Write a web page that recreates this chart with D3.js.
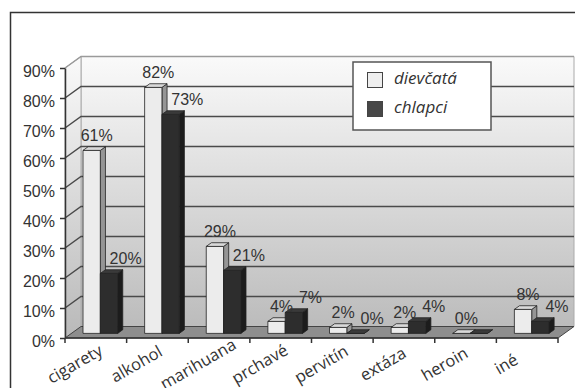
<!DOCTYPE html>
<html>
<head>
<meta charset="utf-8">
<script src="https://cdn.jsdelivr.net/npm/d3@7"></script>
<style>
  html, body { margin: 0; padding: 0; background: #fff; }
  svg { display: block; }
</style>
</head>
<body>
<script>
// ---- data ----
const categories = ["cigarety", "alkohol", "marihuana", "prchavé", "pervitín", "extáza", "heroin", "iné"];
const seriesNames = ["dievčatá", "chlapci"];
const girls = [0.61, 0.82, 0.29, 0.04, 0.02, 0.02, 0.00, 0.08];
const boys  = [0.20, 0.73, 0.21, 0.07, 0.00, 0.04, 0.00, 0.04];
const girlsLabels = ["61%", "82%", "29%", "4%", "2%", "2%", "0%", "8%"];
const boysLabels  = ["20%", "73%", "21%", "7%", "0%", "4%", "", "4%"];
const yTicks = [0, 0.1, 0.2, 0.3, 0.4, 0.5, 0.6, 0.7, 0.8, 0.9];

// ---- layout ----
const W = 575, H = 388;
const DX = 16, DY = 11.5;      // depth offset of back wall
const Z0 = 0.4, Z1 = 0.72;      // bar depth range
const x0Front = 65, x1Front = 558;

const svg = d3.select("body").append("svg").attr("width", W).attr("height", H);

const y = d3.scaleLinear().domain([0, 0.9]).range([338, 68]);
const x = d3.scaleBand().domain(categories).range([x0Front, x1Front]).padding(0);
const xi = d3.scaleBand().domain(seriesNames).range([0, x.bandwidth()])
  .paddingInner(0).paddingOuter(0.78).align(0.43);

const P = (xx, yy, z) => [xx + z * DX, yy - z * DY];
const poly = pts => pts.map(p => p.join(",")).join(" ");

// outer frame
svg.append("rect").attr("x", 10.5).attr("y", 12.5).attr("width", 620).attr("height", 420)
  .attr("fill", "#fff").attr("stroke", "#333").attr("stroke-width", 1.5);

// gradient
const defs = svg.append("defs");
const grad = defs.append("linearGradient").attr("id", "wall")
  .attr("gradientUnits", "userSpaceOnUse").attr("x1", 0).attr("x2", 0)
  .attr("y1", y(0.9) - DY).attr("y2", y(0));
grad.append("stop").attr("offset", "0%").attr("stop-color", "#fafafa");
grad.append("stop").attr("offset", "100%").attr("stop-color", "#b9b9b9");

const yTop = y(0.9), yBot = y(0);
// back wall
svg.append("polygon")
  .attr("points", poly([P(x0Front, yTop, 1), P(x1Front, yTop, 1), P(x1Front, yBot, 1), P(x0Front, yBot, 1)]))
  .attr("fill", "url(#wall)").attr("stroke", "#aaa").attr("stroke-width", 1);
// left wall
svg.append("polygon")
  .attr("points", poly([[x0Front, yBot], [x0Front, yTop], P(x0Front, yTop, 1), P(x0Front, yBot, 1)]))
  .attr("fill", "url(#wall)").attr("stroke", "#aaa").attr("stroke-width", 1);

// gridlines
yTicks.filter(v => v > 0).forEach(v => {
  const col = v >= 0.9 ? "#9a9a9a" : "#4a4a4a";
  svg.append("polyline")
    .attr("points", poly([[x0Front, y(v)], P(x0Front, y(v), 1), P(x1Front, y(v), 1)]))
    .attr("fill", "none").attr("stroke", col).attr("stroke-width", 1.5);
});

// floor
svg.append("polygon")
  .attr("points", poly([[x0Front, yBot], [x1Front, yBot], P(x1Front, yBot, 1), P(x0Front, yBot, 1)]))
  .attr("fill", "#8e8e8e").attr("stroke", "#444").attr("stroke-width", 1);

// bars
const styles = {
  "dievčatá": { front: "#ececec", top: "#d9d9d9", side: "#959595" },
  "chlapci":  { front: "#2d2d2d", top: "#3a3a3a", side: "#1c1c1c" }
};
const bars = svg.append("g");
categories.forEach((c, i) => {
  [["dievčatá", girls[i]], ["chlapci", boys[i]]].forEach(([s, v]) => {
    const st = styles[s];
    const xa = x(c) + xi(s), xb = xa + xi.bandwidth();
    const yv = y(v), y0 = y(0);
    const g = bars.append("g").attr("stroke", "#222").attr("stroke-width", 0.8).attr("stroke-linejoin", "round");
    g.append("polygon").attr("points", poly([P(xb, yv, Z0), P(xb, yv, Z1), P(xb, y0, Z1), P(xb, y0, Z0)])).attr("fill", st.side);
    g.append("polygon").attr("points", poly([P(xa, yv, Z0), P(xb, yv, Z0), P(xb, y0, Z0), P(xa, y0, Z0)])).attr("fill", st.front);
    g.append("polygon").attr("points", poly([P(xa, yv, Z0), P(xb, yv, Z0), P(xb, yv, Z1), P(xa, yv, Z1)])).attr("fill", st.top);
  });
});

// value labels
const labelG = svg.append("g").attr("font-family", "'Liberation Sans', Arial, sans-serif")
  .attr("font-size", 16).attr("fill", "#333").attr("text-anchor", "middle");
categories.forEach((c, i) => {
  {
    const s = seriesNames[0];
    const xa = x(c) + xi(s);
    const cx = xa + xi.bandwidth() / 2 + Z0 * DX + 5;
    const ty = P(0, y(girls[i]), Z1)[1] - 6;
    if (girlsLabels[i]) labelG.append("text").attr("x", cx).attr("y", ty).text(girlsLabels[i]);
  }
  {
    const s = seriesNames[1];
    const xb = x(c) + xi(s) + xi.bandwidth();
    const cx = xb + Z0 * DX + 8;
    const ty = P(0, y(boys[i]), Z1)[1] - 6;
    if (boysLabels[i]) labelG.append("text").attr("x", cx).attr("y", ty).text(boysLabels[i]);
  }
});

// y axis
const yAxis = d3.axisLeft(y).tickValues(yTicks).tickFormat(d3.format(".0%"))
  .tickSize(5).tickSizeOuter(0).tickPadding(5);
const ya = svg.append("g").attr("transform", `translate(${x0Front},0)`).call(yAxis);
ya.select(".domain").attr("stroke", "#333").attr("stroke-width", 1.5);
ya.selectAll(".tick line").attr("stroke", "#333").attr("stroke-width", 1.5);
ya.selectAll(".tick text").attr("font-family", "'Liberation Sans', Arial, sans-serif")
  .attr("font-size", 16).attr("fill", "#333").attr("dy", "0.5em");

// x axis (front edge with category-boundary ticks)
const xa = svg.append("g").attr("transform", `translate(0,${y(0)})`);
xa.append("line").attr("x1", x0Front).attr("x2", x1Front).attr("stroke", "#333").attr("stroke-width", 1.5);
const bounds = categories.map(c => x(c)).concat([x1Front]);
xa.selectAll("line.tk").data(bounds).join("line").attr("class", "tk")
  .attr("x1", d => d).attr("x2", d => d).attr("y1", 0).attr("y2", 5)
  .attr("stroke", "#333").attr("stroke-width", 1.5);

// category labels
svg.append("g").selectAll("text").data(categories).join("text")
  .attr("transform", d => `translate(${x(d) + x.bandwidth() / 2 - 21},364) rotate(-30)`)
  .attr("text-anchor", "middle").attr("dy", "0.35em")
  .attr("font-family", "'Open Sans', sans-serif").attr("font-size", 16.5).attr("fill", "#333")
  .text(d => d);

// legend
const lg = svg.append("g");
lg.append("rect").attr("x", 353).attr("y", 62).attr("width", 138).attr("height", 68)
  .attr("fill", "#fff").attr("stroke", "#555").attr("stroke-width", 1.5);
const swatch = { "dievčatá": "#eeeeee", "chlapci": "#474747" };
seriesNames.forEach((s, i) => {
  lg.append("rect").attr("x", 367.5).attr("y", 72.5 + i * 29).attr("width", 15).attr("height", 15)
    .attr("fill", swatch[s]).attr("stroke", "#444").attr("stroke-width", 1);
  lg.append("text").attr("x", 394).attr("y", 84 + i * 29)
    .attr("font-family", "'Open Sans', sans-serif").attr("font-style", "italic")
    .attr("font-size", 17).attr("fill", "#333").text(s);
});
</script>
</body>
</html>
